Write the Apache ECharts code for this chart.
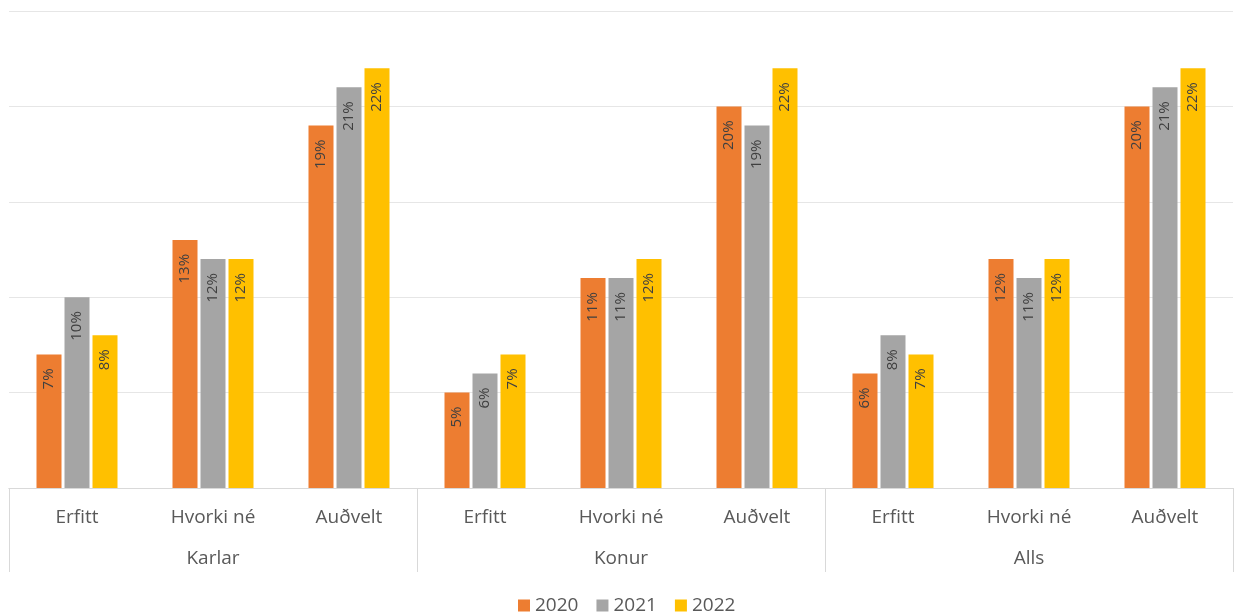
<!DOCTYPE html>
<html>
<head>
<meta charset="utf-8">
<script src="https://cdn.jsdelivr.net/npm/echarts@6/dist/echarts.min.js"></script>
<style>
  html, body { margin: 0; padding: 0; background: #ffffff; }
  #chart { width: 1239px; height: 615px; }
</style>
</head>
<body>
<div id="chart"></div>
<script>
// Answer categories, repeated for each group
const categories = ['Erfitt', 'Hvorki né', 'Auðvelt', 'Erfitt', 'Hvorki né', 'Auðvelt', 'Erfitt', 'Hvorki né', 'Auðvelt'];
const groups = ['Karlar', 'Konur', 'Alls'];
const years = ['2020', '2021', '2022'];

// Shares in percent, per year
const values2020 = [7, 13, 19, 5, 11, 20, 6, 12, 20];
const values2021 = [10, 12, 21, 6, 11, 19, 8, 11, 21];
const values2022 = [8, 12, 22, 7, 12, 22, 7, 12, 22];

const colors = ['#ED7D31', '#A5A5A5', '#FFC000'];
const font = '"Open Sans", "Noto Sans", sans-serif';

const chart = echarts.init(document.getElementById('chart'));

function barSeries(name, data, color) {
  return {
    name: name,
    type: 'bar',
    xAxisIndex: 0,
    data: data,
    barWidth: 25,
    barGap: '12%',
    itemStyle: { color: color },
    label: {
      show: true,
      position: 'insideTop',
      rotate: 90,
      align: 'right',
      verticalAlign: 'middle',
      distance: 14,
      formatter: '{c}%',
      color: '#404040',
      fontSize: 15,
      fontFamily: font
    }
  };
}

chart.setOption({
  animation: false,
  color: colors,
  grid: { left: 9, right: 6, top: 11, bottom: 127, containLabel: false },
  legend: {
    data: years,
    left: 513,
    top: 591,
    itemWidth: 12,
    itemHeight: 12,
    itemGap: 18,
    icon: 'rect',
    textStyle: { color: '#595959', fontSize: 19, fontFamily: font }
  },
  xAxis: [
    {
      type: 'category',
      data: categories,
      position: 'bottom',
      axisLine: { show: true, lineStyle: { color: '#d9d9d9', width: 1 } },
      axisTick: { show: false },
      axisLabel: { interval: 0, margin: 20, color: '#595959', fontSize: 19, fontFamily: font }
    },
    {
      type: 'category',
      data: groups,
      position: 'bottom',
      axisLine: { show: true, lineStyle: { color: '#d9d9d9', width: 1 } },
      axisTick: { show: true, interval: 0, length: 84, lineStyle: { color: '#d9d9d9', width: 1 } },
      axisLabel: { interval: 0, margin: 61, color: '#595959', fontSize: 19, fontFamily: font }
    }
  ],
  yAxis: {
    type: 'value',
    min: 0,
    max: 25,
    interval: 5,
    axisLine: { show: false },
    axisTick: { show: false },
    axisLabel: { show: false },
    splitLine: { show: true, lineStyle: { color: '#e6e6e6', width: 1 } }
  },
  series: [
    barSeries(years[0], values2020, colors[0]),
    barSeries(years[1], values2021, colors[1]),
    barSeries(years[2], values2022, colors[2])
  ]
});
</script>
</body>
</html>
